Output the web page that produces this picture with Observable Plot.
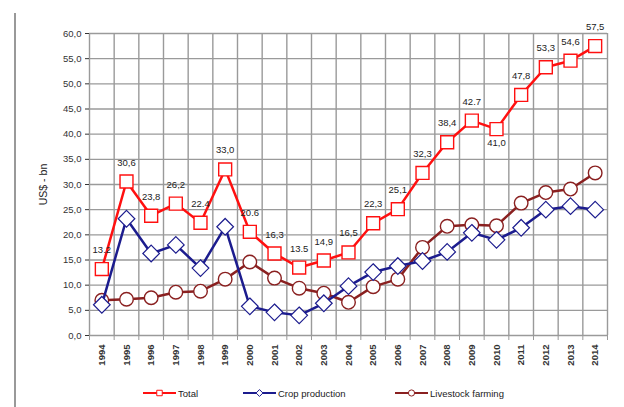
<!DOCTYPE html>
<html>
<head>
<meta charset="utf-8">
<script src="https://cdn.jsdelivr.net/npm/d3@7"></script>
<script src="https://cdn.jsdelivr.net/npm/@observablehq/plot@0.6"></script>
<style>
  html, body { margin: 0; padding: 0; background: #fff; }
  body { width: 624px; height: 407px; position: relative; overflow: hidden; font-family: "Liberation Sans", Arial, sans-serif; }
  #frame { position: absolute; left: 14px; top: 13px; width: 2px; height: 394px; background: #999; }
  #chart { position: absolute; left: 0; top: 0; }
  #legend { position: absolute; left: 0; top: 383px; }
</style>
</head>
<body>
<div id="frame"></div>
<div id="chart"></div>
<div id="legend"></div>
<script>
const years = [1994,1995,1996,1997,1998,1999,2000,2001,2002,2003,2004,2005,2006,2007,2008,2009,2010,2011,2012,2013,2014];
const total = [13.2,30.6,23.8,26.2,22.4,33.0,20.6,16.3,13.5,14.9,16.5,22.3,25.1,32.3,38.4,42.7,41.0,47.8,53.3,54.6,57.5];
const totalLabels = ["13.2","30,6","23,8","26,2","22.4","33,0","20.6","16,3","13.5","14,9","16,5","22,3","25,1","32,3","38,4","42.7","41,0","47,8","53,3","54,6","57,5"];
const crop = [6.1,23.2,16.3,18.0,13.4,21.6,5.8,4.6,4.0,6.4,9.8,12.6,13.8,14.8,16.6,20.4,19.0,21.4,25.0,25.7,25.0];
const livestock = [7.0,7.2,7.5,8.6,8.8,11.2,14.6,11.4,9.4,8.4,6.6,9.7,11.2,17.5,21.7,22.0,21.8,26.3,28.4,29.1,32.3];
const yTicks = [0,5,10,15,20,25,30,35,40,45,50,55,60];
const seriesNames = ["Total","Crop production","Livestock farming"];
const colors = ["#ff1010","#1c1c8e","#8a2020"];

const tbl = years.map((yr, i) => ({year: yr, total: total[i], label: totalLabels[i], crop: crop[i], livestock: livestock[i]}));
const edges = [years[0] - 0.5, ...years.map(y => y + 0.5)];
const below = new Set([2010]);
const fmt = v => v.toFixed(1).replace(".", ",");

const plot = Plot.plot({
  width: 624,
  height: 380,
  marginLeft: 89,
  marginRight: 17,
  marginTop: 33,
  marginBottom: 45,
  style: {fontFamily: "'Liberation Sans', Arial, sans-serif", background: "transparent"},
  x: {type: "linear", domain: [edges[0], edges[edges.length - 1]]},
  y: {domain: [0, 60]},
  marks: [
    Plot.gridY(yTicks, {stroke: "#9a9a9a", strokeOpacity: 1, strokeWidth: 1.4}),
    Plot.ruleX(edges, {stroke: "#9a9a9a", strokeOpacity: 1, strokeWidth: 1.4}),
    Plot.axisY(yTicks, {tickFormat: fmt, tickSize: 4, tickPadding: 4, fontSize: 9.5, fill: "#333", stroke: "#333", label: null}),
    Plot.axisY([], {label: "US$ - bn", labelAnchor: "center", labelArrow: "none", labelOffset: 50, fontSize: 10.5, fill: "#222"}),
    Plot.axisX(edges, {tickFormat: () => "", tickSize: 5, stroke: "#9a9a9a", label: null}),
    Plot.axisX(years, {tickFormat: d => String(d), tickSize: 0, tickPadding: 9, tickRotate: -90, fontSize: 9.5, fontWeight: "bold", fill: "#333", label: null}),
    Plot.line(tbl, {x: "year", y: "livestock", stroke: colors[2], strokeWidth: 2.5}),
    Plot.dot(tbl, {x: "year", y: "livestock", r: 6.8, symbol: "circle", stroke: colors[2], strokeWidth: 1.4, fill: "white"}),
    Plot.line(tbl, {x: "year", y: "crop", stroke: colors[1], strokeWidth: 2.5}),
    Plot.dot(tbl, {x: "year", y: "crop", r: 7.5, symbol: "diamond2", stroke: colors[1], strokeWidth: 1.2, fill: "white"}),
    Plot.line(tbl, {x: "year", y: "total", stroke: colors[0], strokeWidth: 2.5}),
    Plot.dot(tbl, {x: "year", y: "total", r: 7.3, symbol: "square", stroke: colors[0], strokeWidth: 1.4, fill: "white"}),
    Plot.text(tbl.filter(d => !below.has(d.year)), {x: "year", y: "total", text: "label", dy: -19, fontSize: 9.5, fill: "#222"}),
    Plot.text(tbl.filter(d => below.has(d.year)), {x: "year", y: "total", text: "label", dy: 14, fontSize: 9.5, fill: "#222"})
  ]
});
document.getElementById("chart").appendChild(plot);

// legend
const lg = d3.select("#legend").append("svg").attr("width", 624).attr("height", 22)
  .style("font-family", "'Liberation Sans', Arial, sans-serif");
const legendX = [143, 243, 395];
const symbols = [d3.symbolSquare, d3.symbolDiamond2, d3.symbolCircle];
seriesNames.forEach((name, i) => {
  const g = lg.append("g").attr("transform", `translate(${legendX[i]},10)`);
  g.append("line").attr("x1", 0).attr("x2", 33).attr("y1", 0).attr("y2", 0).attr("stroke", colors[i]).attr("stroke-width", 2.2);
  g.append("path").attr("d", d3.symbol(symbols[i], 30)()).attr("transform", "translate(16.5,0)")
    .attr("fill", "white").attr("stroke", colors[i]).attr("stroke-width", 1);
  g.append("text").attr("x", 35).attr("y", 3.5).attr("font-size", 9.5).attr("fill", "#222").text(name);
});
</script>
</body>
</html>
